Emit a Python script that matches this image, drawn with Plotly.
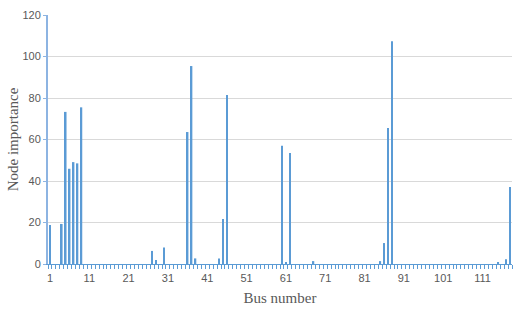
import plotly.graph_objects as go

bus_numbers = list(range(1, 119))
node_importance = [
    18.8, 0, 0, 19.3, 73.3, 45.9, 49.1, 48.5, 75.5, 0,
    0, 0, 0, 0, 0, 0, 0, 0, 0, 0,
    0, 0, 0, 0, 0, 0, 6.3, 1.9, 0, 7.9,
    0, 0, 0, 0, 0, 63.6, 95.4, 2.7, 0, 0,
    0, 0, 0, 2.7, 21.7, 81.4, 0, 0, 0, 0,
    0, 0, 0, 0, 0, 0, 0, 0, 0, 57.0,
    0.8, 53.5, 0, 0, 0, 0, 0, 1.4, 0, 0,
    0, 0, 0, 0, 0, 0, 0, 0, 0, 0,
    0, 0, 0, 0, 1.4, 10.1, 65.5, 107.3, 0, 0,
    0, 0, 0, 0, 0, 0, 0, 0, 0, 0,
    0, 0, 0, 0, 0, 0, 0, 0, 0, 0,
    0, 0, 0, 0, 0.5, 0, 2.3, 37.1,
]
x_tick_values = [1, 11, 21, 31, 41, 51, 61, 71, 81, 91, 101, 111]
x_tick_labels = [str(v) for v in x_tick_values]
y_tick_values = [0, 20, 40, 60, 80, 100, 120]

fig = go.Figure(
    go.Bar(
        x=bus_numbers,
        y=node_importance,
        width=0.42,
        marker=dict(color="#5B9BD5", line=dict(width=0)),
    )
)

tick_font = dict(family="Liberation Sans, Arial, sans-serif", size=11, color="#595959")
title_font = dict(family="Liberation Serif, Times New Roman, serif", size=15, color="#595959")

fig.update_layout(
    width=520,
    height=314,
    margin=dict(l=48, r=8, t=15, b=50, autoexpand=False),
    paper_bgcolor="white",
    plot_bgcolor="white",
    showlegend=False,
    xaxis=dict(
        range=[0.5, 118.5],
        tickmode="array",
        tickvals=x_tick_values,
        ticktext=x_tick_labels,
        ticks="",
        ticklabelstandoff=4,
        tickfont=tick_font,
        showgrid=False,
        showline=True,
        linecolor="#5B9BD5",
        linewidth=1,
        zeroline=False,
        automargin=False,
        minor=dict(
            tick0=0.5,
            dtick=1,
            ticks="outside",
            ticklen=4,
            tickcolor="#5B9BD5",
            tickwidth=1,
            showgrid=False,
        ),
        title=dict(text="Bus number", font=title_font, standoff=9),
    ),
    yaxis=dict(
        range=[0, 120],
        tickmode="array",
        tickvals=y_tick_values,
        ticks="outside",
        ticklen=3,
        tickcolor="#8DB4E2",
        tickfont=tick_font,
        showgrid=True,
        gridcolor="#D9D9D9",
        gridwidth=1,
        showline=True,
        linecolor="#8DB4E2",
        linewidth=2,
        zeroline=False,
        automargin=False,
        title=dict(text="Node importance", font=title_font, standoff=0),
    ),
)

fig.write_html(
    "out.html",
    config={"displayModeBar": False},
    post_script="document.body.style.margin='0';document.body.style.padding='0';",
)
